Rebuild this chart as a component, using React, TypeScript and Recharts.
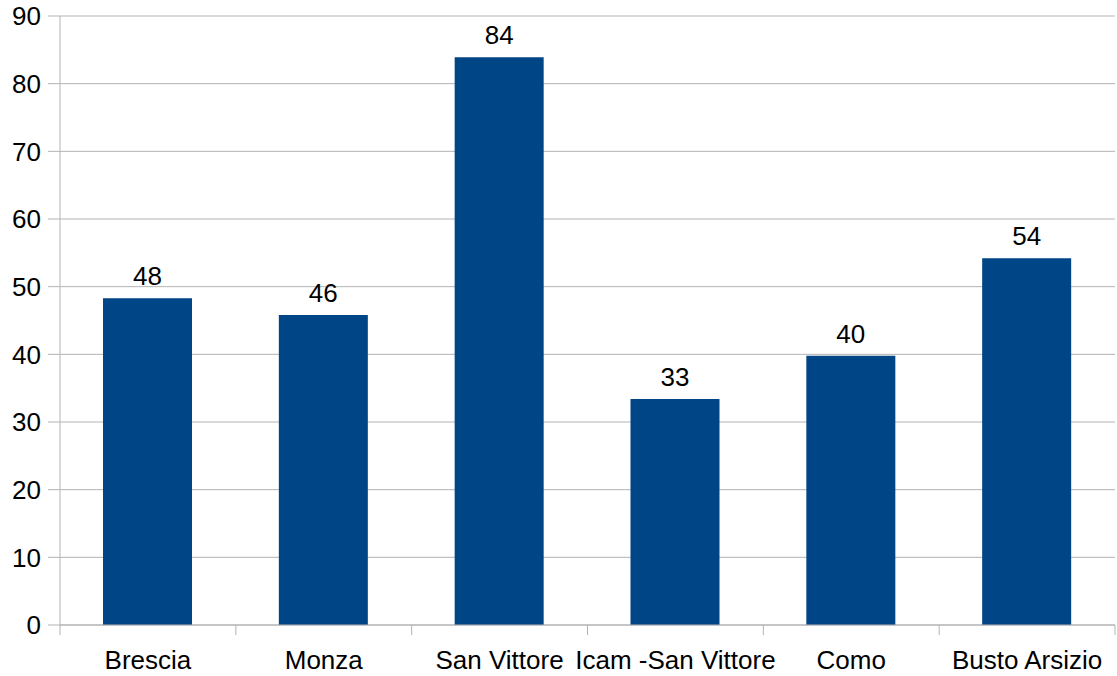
import React from 'react';
import { BarChart, Bar, XAxis, YAxis, CartesianGrid, LabelList } from 'recharts';

const categories = ['Brescia', 'Monza', 'San Vittore', 'Icam -San Vittore', 'Como', 'Busto Arsizio'];
const values = [48.3, 45.8, 83.9, 33.4, 39.8, 54.2];
const yTicks = [0, 10, 20, 30, 40, 50, 60, 70, 80, 90];

const data = categories.map((name, i) => ({ name, value: values[i] }));

const GRID = '#b3b3b3';
const FONT = '"Liberation Sans", Arial, sans-serif';
const FS = 26;

const XTick = (props: any) => {
  const { x, y, payload, index, visibleTicksCount } = props;
  const half = payload && payload.offset ? payload.offset : 0;
  const axisY = y - 16 - 10;
  const count = visibleTicksCount || categories.length;
  return (
    <g>
      <line x1={x - half} x2={x - half} y1={axisY} y2={axisY + 10} stroke={GRID} strokeWidth={1} />
      {index === count - 1 && (
        <line x1={x + half} x2={x + half} y1={axisY} y2={axisY + 10} stroke={GRID} strokeWidth={1} />
      )}
      <text x={x} y={y} dy="0.71em" textAnchor="middle" fill="#000" fontSize={FS} fontFamily={FONT}>
        {payload.value}
      </text>
    </g>
  );
};

export default function App() {
  return (
    <div style={{ position: 'absolute', left: 0, top: 0, background: '#fff' }}>
      <BarChart
        width={1117}
        height={676}
        data={data}
        margin={{ top: 16, right: 2, bottom: 11, left: 0 }}
        barCategoryGap={0}
      >
        <CartesianGrid vertical={false} stroke={GRID} strokeWidth={1} />
        <XAxis
          dataKey="name"
          height={40}
          interval={0}
          axisLine={{ stroke: GRID }}
          tickLine={false}
          tickSize={10}
          tickMargin={16}
          tick={<XTick />}
        />
        <YAxis
          width={60}
          domain={[0, 90]}
          ticks={yTicks}
          interval={0}
          axisLine={{ stroke: GRID }}
          tickLine={{ stroke: GRID }}
          tickSize={12}
          tickMargin={7}
          tick={{ fill: '#000', fontSize: FS, fontFamily: FONT }}
        />
        <YAxis
          yAxisId="right"
          orientation="right"
          width={0}
          domain={[0, 90]}
          ticks={[]}
          axisLine={{ stroke: GRID }}
          tickLine={false}
          tick={false}
        />
        <Bar dataKey="value" fill="#004586" barSize={89} isAnimationActive={false}>
          <LabelList
            dataKey="value"
            position="top"
            offset={13}
            formatter={(v: any) => Math.round(Number(v))}
            style={{ fill: '#000', fontSize: FS, fontFamily: FONT }}
          />
        </Bar>
      </BarChart>
    </div>
  );
}
